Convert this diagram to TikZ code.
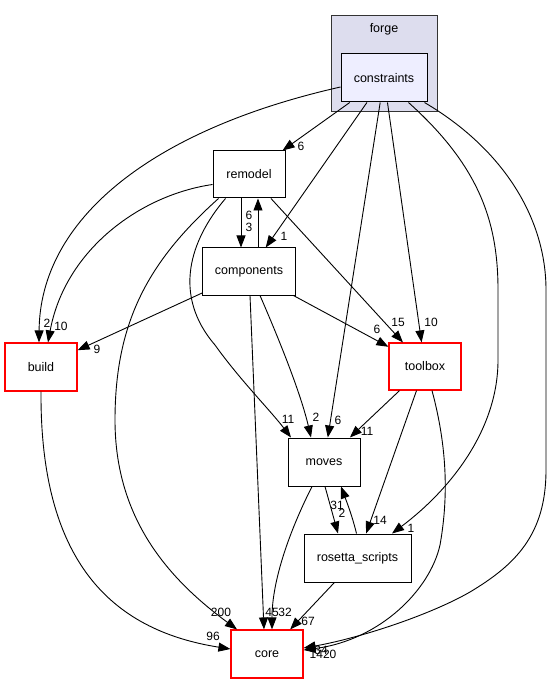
\documentclass[tikz,border=0pt]{standalone}
\usepackage{fontspec}
\setmainfont{Liberation Sans}
\usetikzlibrary{arrows.meta, positioning}

\definecolor{clusterfill}{HTML}{DDDDEE}
\definecolor{dirfill}{HTML}{EEEEFF}
\definecolor{extred}{HTML}{FF0000}

\begin{document}
\begin{tikzpicture}[
        x=1pt, y=-1pt,
        dir/.style={rectangle, draw=black, line width=1pt, fill=white, minimum width=72pt, minimum height=48pt, inner sep=0pt, font=\fontsize{12.5}{15}\selectfont},
        ext/.style={dir, draw=extred, line width=1.2pt},
        cluster/.style={rectangle, draw=black!80, line width=1pt, fill=clusterfill, minimum width=106pt, minimum height=96pt, inner sep=0pt},
        edge/.style={draw, line width=0.9pt, -{Triangle[length=12pt, width=9pt]}},
        lbl/.style={font=\fontsize{12}{14}\selectfont, inner sep=0pt}
    ]
    \useasboundingbox (0,0) rectangle (555,684);

    % Cluster
    \node [cluster] (forge) at (384,64) {};
    \node [font=\fontsize{12.5}{15}\selectfont] (forgetitle) at (384,29) {forge};

    % Nodes
    \node [dir, fill=dirfill, minimum width=86pt] (constraints) at (384,78) {constraints};
    \node [dir, minimum height=47pt] (remodel) at (249,174.5) {remodel};
    \node [dir, minimum width=93pt, minimum height=47pt, below=49pt of remodel] (components) {components};
    \node [ext] (build) at (41,367) {build};
    \node [ext, minimum height=47pt] (toolbox) at (425,366.5) {toolbox};
    \node [dir] (moves) at (324,462) {moves};
    \node [dir, minimum width=107pt] (rosetta) at (357.5,558) {rosetta\_scripts};
    \node [ext] (core) at (267,654) {core};

    % From constraints
    \path [edge] (constraints) -- (remodel) node[lbl] at (301,146) {6};
    \path [edge] ([yshift=-9pt]constraints.west) .. controls (150,130) and (40,220) .. ([xshift=-2pt]build.north) node[lbl] at (47,323) {2};
    \path [edge] (constraints) -- (components) node[lbl] at (284,236) {1};
    \path [edge] (constraints) -- (moves) node[lbl] at (338,420) {6};
    \path [edge] (constraints) -- (toolbox) node[lbl] at (431,322) {10};
    \path [edge] ([xshift=-19pt]constraints.south east) .. controls (478,165) and (498,220) .. (498,290) -- (498,360) .. controls (498,430) and (450,490) .. ([xshift=34.5pt]rosetta.north) node[lbl] at (411,528) {1};
    \path [edge] ([xshift=-3pt]constraints.south east) .. controls (505,150) and (546,220) .. (546,290) -- (546,470) .. controls (546,535) and (515,565) .. (470,592) .. controls (430,615) and (360,638) .. ([yshift=6pt]core.east) node[lbl] at (323,654) {1420};

    % From remodel
    \path [edge] ([yshift=-10pt]remodel.west) .. controls (140,195) and (65,250) .. ([xshift=7pt]build.north) node[lbl] at (61,326) {10};
    \path [edge] ([xshift=-8pt]remodel.south) -- ([xshift=-8pt]components.north) node[lbl] at (249,227) {3};
    \path [edge] (remodel) -- (toolbox) node[lbl] at (398,322) {15};
    \path [edge] ([xshift=13pt]remodel.south west) .. controls (190,240) and (172,295) .. (215,345) .. controls (240,380) and (270,410) .. ([xshift=-33pt]moves.north) node[lbl] at (288,419) {11};
    \path [edge] ([xshift=6pt]remodel.south west) .. controls (150,260) and (115,320) .. (115,420) .. controls (115,520) and (170,580) .. ([xshift=-30pt]core.north) node[lbl] at (221,612) {200};

    % From components
    \path [edge] ([xshift=9pt]components.north) -- ([xshift=9pt]remodel.south) node[lbl] at (249,215) {6};
    \path [edge] (components) -- (build) node[lbl] at (97,349) {9};
    \path [edge] (components) -- (toolbox) node[lbl] at (377,329) {6};
    \path [edge] ([xshift=11pt]components.south) .. controls (275,330) and (300,390) .. ([xshift=-13pt]moves.north) node[lbl] at (316,417) {2};
    \path [edge] ([xshift=1pt]components.south) -- ([xshift=-3pt]core.north) node[lbl] at (272,612) {45};

    % From moves
    \path [edge] ([xshift=-12pt]moves.south) .. controls (290,530) and (272,580) .. ([xshift=5pt]core.north) node[lbl] at (285,612) {32};
    \path [edge] ([xshift=1pt]moves.south) -- ([xshift=-19.5pt]rosetta.north) node[lbl] at (337,505) {31};

    % From rosetta_scripts
    \path [edge] ([xshift=-1pt]rosetta.north) .. controls (352,515) and (346,500) .. ([xshift=17pt]moves.south) node[lbl] at (342,513) {2};
    \path [edge] (rosetta) -- (core) node[lbl] at (308,621) {67};

    % From toolbox
    \path [edge] (toolbox) -- (moves) node[lbl] at (367,431) {11};
    \path [edge] (toolbox) -- (rosetta) node[lbl] at (380,520) {14};
    \path [edge] ([xshift=7pt]toolbox.south) .. controls (448,450) and (448,500) .. (440,545) .. controls (430,590) and (380,640) .. ([yshift=4pt]core.east) node[lbl] at (321,650) {34};

    % From build
    \path [edge] (build.south) .. controls (40,560) and (110,630) .. ([yshift=5pt]core.west) node[lbl] at (213,636) {96};
\end{tikzpicture}
\end{document}
